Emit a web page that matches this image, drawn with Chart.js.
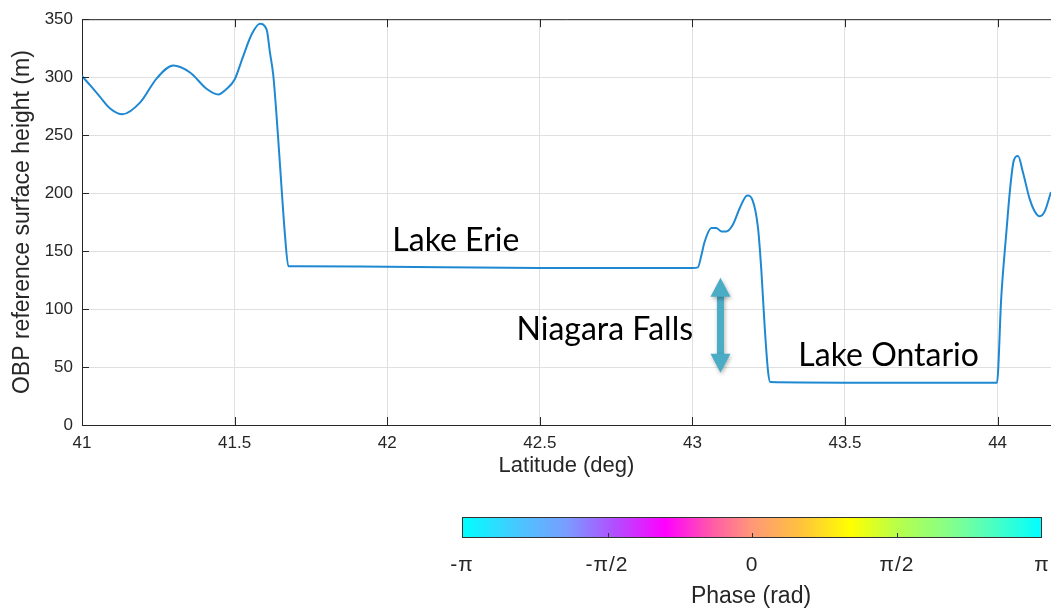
<!DOCTYPE html>
<html>
<head>
<meta charset="utf-8">
<script src="https://cdn.jsdelivr.net/npm/chart.js@4.4.1/dist/chart.umd.min.js"></script>
<style>
  body { margin: 0; background: #fff; }
  #wrap { position: relative; width: 1051px; height: 612px; overflow: hidden;
          font-family: 'Liberation Sans', Arial, sans-serif; color: #262626; }
  #chart { position: absolute; left: 0; top: 0; }
  #cbar { position: absolute; left: 462px; top: 517px; width: 580px; height: 21px;
          box-sizing: border-box; border: 1px solid #333;
          background: linear-gradient(to right, #00ffff 0%, #4cc4ff 10%, #7a9cff 18%, #b050ff 26%,
            #ff00ff 35%, #ff5aa8 43%, #ff9878 50%, #ffc040 58%, #ffff00 67%, #b8ff48 75%,
            #80ff90 85%, #40ffcc 93%, #00ffff 100%); }
  .cb-tick { position: absolute; bottom: 0; width: 1px; height: 4px; background: #333; }
  .cb-label { position: absolute; top: 552px; font-size: 21px; letter-spacing: 1px;
              transform: translateX(-50%); white-space: nowrap; }
  #cb-title { position: absolute; top: 582px; left: 751px; transform: translateX(-50%);
              font-size: 23px; white-space: nowrap; }
</style>
</head>
<body>
<div id="wrap">
  <canvas id="chart" width="1051" height="612"></canvas>
  <div id="cbar"></div>
  <div id="cb-title">Phase (rad)</div>
</div>
<script>
// Along-track profile (latitude in deg, height in m)
const latitude = [
  41.000, 41.030, 41.059, 41.092, 41.133, 41.190, 41.245, 41.299, 41.354, 41.408,
  41.447, 41.470, 41.500, 41.528, 41.556, 41.583, 41.605, 41.616, 41.627, 41.642,
  41.654, 41.665, 41.676, 41.700, 42.000, 42.500, 43.000, 43.018, 43.030, 43.040,
  43.062, 43.078, 43.095, 43.111, 43.133, 43.155, 43.180, 43.197, 43.215, 43.226,
  43.237, 43.248, 43.255, 43.500, 43.998, 44.012, 44.029, 44.040, 44.053, 44.067,
  44.083, 44.105, 44.120, 44.138, 44.154, 44.175
];
const heightM = [
  301, 292, 283, 273, 268, 278, 299, 310, 304, 290,
  285, 289, 298, 318, 337, 346, 341, 321, 301, 250,
  204, 164, 137, 137, 136.5, 135.5, 135.4, 136, 147, 158,
  170, 170, 167, 167, 173, 187, 198, 194, 170, 133,
  84, 46, 37, 36.5, 36.5, 110, 167, 201, 228, 232,
  218, 195, 185, 180, 184, 201
];
const phaseTicks = ['-\u03c0', '-\u03c0/2', '0', '\u03c0/2', '\u03c0'];

// Text labels and the double arrow, in data units
const notes = [
  { text: 'Lake Erie', lat: 42.225, h: 150 },
  { text: 'Niagara Falls', lat: 42.713, h: 73 },
  { text: 'Lake Ontario', lat: 43.643, h: 51 }
];
const fallsArrow = { lat: 43.092, top: 127, bottom: 45 };

// colour bar ticks + labels
const cbar = document.getElementById('cbar');
const wrap = document.getElementById('wrap');
phaseTicks.forEach((t, i) => {
  const frac = i / (phaseTicks.length - 1);
  if (i > 0 && i < phaseTicks.length - 1) {
    const tk = document.createElement('div');
    tk.className = 'cb-tick';
    tk.style.left = (frac * 100) + '%';
    cbar.appendChild(tk);
  }
  const lb = document.createElement('div');
  lb.className = 'cb-label';
  lb.textContent = t;
  lb.style.left = (462 + frac * 580) + 'px';
  wrap.appendChild(lb);
});

const boxPlugin = {
  id: 'box',
  afterDatasetsDraw(chart) {
    const { ctx, chartArea: a, scales: { x, y } } = chart;
    ctx.save();
    ctx.strokeStyle = '#262626';
    ctx.lineWidth = 1;
    ctx.beginPath();
    ctx.moveTo(a.left, a.top + 0.5); ctx.lineTo(a.right, a.top + 0.5);
    x.ticks.forEach(t => {
      const px = Math.round(x.getPixelForValue(t.value)) + 0.5;
      ctx.moveTo(px, a.bottom); ctx.lineTo(px, a.bottom - 8);
      ctx.moveTo(px, a.top); ctx.lineTo(px, a.top + 8);
    });
    y.ticks.forEach(t => {
      const py = Math.round(y.getPixelForValue(t.value)) + 0.5;
      ctx.moveTo(a.left, py); ctx.lineTo(a.left + 7, py);
    });
    ctx.stroke();

    // annotations
    ctx.fillStyle = '#000';
    ctx.font = '32px Lato, "Open Sans", sans-serif';
    ctx.textAlign = 'center';
    ctx.textBaseline = 'alphabetic';
    notes.forEach(n => ctx.fillText(n.text, x.getPixelForValue(n.lat), y.getPixelForValue(n.h)));

    // double arrow
    const ax = x.getPixelForValue(fallsArrow.lat);
    const y1 = y.getPixelForValue(fallsArrow.top);
    const y2 = y.getPixelForValue(fallsArrow.bottom);
    ctx.shadowColor = 'rgba(0,0,0,0.3)';
    ctx.shadowBlur = 4;
    ctx.shadowOffsetX = 1;
    ctx.shadowOffsetY = 2;
    ctx.fillStyle = '#4bacc6';
    ctx.fillRect(ax - 3.5, y1 + 16, 7, y2 - y1 - 32);
    ctx.beginPath();
    ctx.moveTo(ax, y1); ctx.lineTo(ax + 10, y1 + 19); ctx.lineTo(ax - 10, y1 + 19); ctx.closePath();
    ctx.moveTo(ax, y2); ctx.lineTo(ax + 10, y2 - 19); ctx.lineTo(ax - 10, y2 - 19); ctx.closePath();
    ctx.fill();
    ctx.restore();
  }
};

new Chart(document.getElementById('chart'), {
  type: 'line',
  data: {
    datasets: [{
      data: latitude.map((lat, i) => ({ x: lat, y: heightM[i] })),
      borderColor: '#1f88d2',
      borderWidth: 2,
      pointRadius: 0,
      cubicInterpolationMode: 'monotone',
      fill: false
    }]
  },
  options: {
    responsive: false,
    animation: false,
    layout: { padding: { top: 16, right: 0, bottom: 127, left: 0 } },
    plugins: { legend: { display: false }, tooltip: { enabled: false } },
    scales: {
      x: {
        type: 'linear',
        min: 41,
        max: 44.175,
        afterFit: s => { s.height = 60; },
        ticks: { stepSize: 0.5, includeBounds: false, padding: 8, color: '#262626', maxRotation: 0,
                 callback: v => String(+v.toFixed(1)),
                 font: { family: 'Liberation Sans', size: 17 } },
        grid: { color: '#e0e0e0', drawTicks: false },
        border: { color: '#262626' },
        title: { display: true, text: 'Latitude (deg)', color: '#262626',
                 font: { family: 'Liberation Sans', size: 22 }, padding: { top: 0, bottom: 6 } }
      },
      y: {
        min: 0,
        max: 350,
        afterFit: s => { s.width = 82; },
        ticks: { stepSize: 50, padding: 9, color: '#262626',
                 font: { family: 'Liberation Sans', size: 17 } },
        grid: { color: '#e0e0e0', drawTicks: false },
        border: { color: '#262626' },
        title: { display: true, text: 'OBP reference surface height (m)', color: '#262626',
                 font: { family: 'Liberation Sans', size: 23 }, padding: { top: 9, bottom: 0 } }
      }
    }
  },
  plugins: [boxPlugin]
});
</script>
</body>
</html>
